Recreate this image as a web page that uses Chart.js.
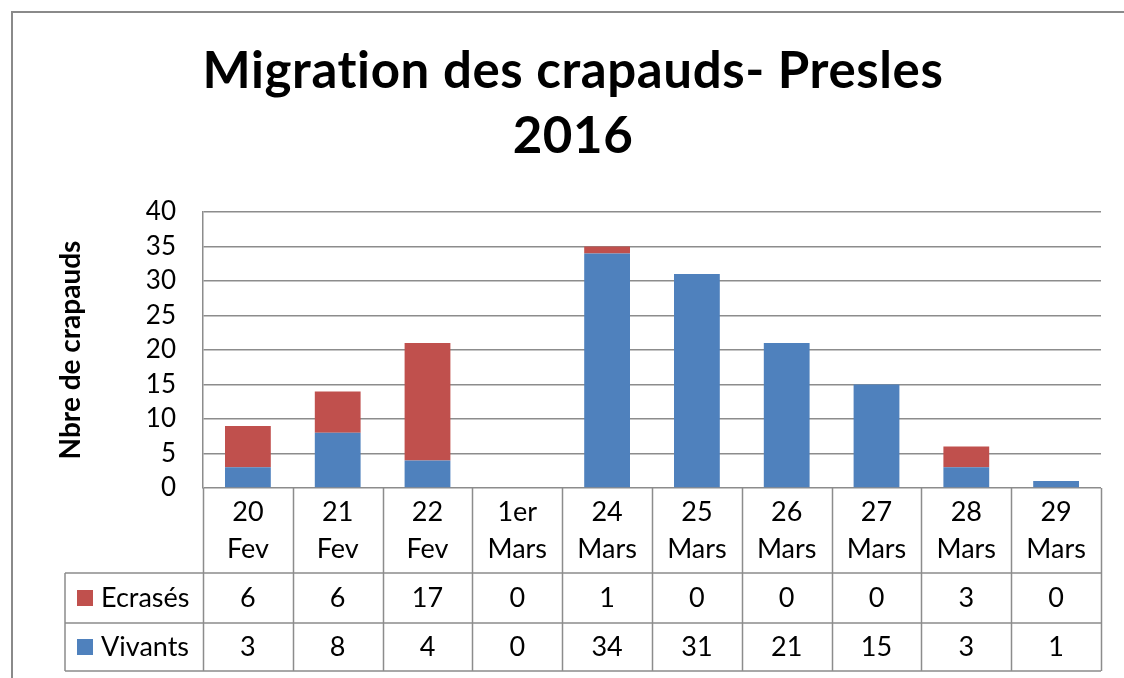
<!DOCTYPE html>
<html>
<head>
<meta charset="utf-8">
<script src="https://cdn.jsdelivr.net/npm/chart.js@4"></script>
<style>
  body { margin: 0; background: #fff; overflow: hidden; }
  #wrap { position: relative; width: 1124px; height: 678px; }
  #frame { position: absolute; left: 11px; top: 11px; width: 1200px; height: 700px; border: 2px solid #8a8a8a; box-sizing: border-box; }
  canvas { position: absolute; left: 0; top: 0; }
</style>
</head>
<body>
<div id="wrap">
  <div id="frame"></div>
  <canvas id="chart" width="1124" height="678"></canvas>
</div>
<script>
const titleLines = ["Migration des crapauds- Presles", "2016"];
const yTitle = "Nbre de crapauds";
const categories = [
  ["20", "Fev"], ["21", "Fev"], ["22", "Fev"], ["1er", "Mars"], ["24", "Mars"],
  ["25", "Mars"], ["26", "Mars"], ["27", "Mars"], ["28", "Mars"], ["29", "Mars"],
];
const vivants = [3, 8, 4, 0, 34, 31, 21, 15, 3, 1];
const ecrases = [6, 6, 17, 0, 1, 0, 0, 0, 3, 0];
const yMax = 40;
const yStep = 5;

const BLUE = "#4F81BD";
const RED = "#C0504D";
const LINE = "#8c8c8c";
const FONT = "Lato";

// title drawn by hand so it can sit off-centre like the original
const titlePlugin = {
  id: "bigTitle",
  afterDraw(chart) {
    const ctx = chart.ctx;
    ctx.save();
    ctx.fillStyle = "#000";
    ctx.font = `bold 51px ${FONT}`;
    ctx.letterSpacing = "0.6px"; // also stops the "ti" ligature
    ctx.textAlign = "center";
    ctx.textBaseline = "middle";
    ctx.fillText(titleLines[0], 573, 72);
    ctx.fillText(titleLines[1], 573, 137);
    ctx.restore();
  },
};

// data table under the plot, with legend keys in the first column
const tablePlugin = {
  id: "dataTable",
  afterDraw(chart) {
    const { ctx, chartArea: a, scales: { x } } = chart;
    const colW = x.width / categories.length;
    const rowLab = a.bottom + 85;
    const rowE = rowLab + 50;
    const rowV = rowE + 48;
    const keyLeft = 65;

    ctx.save();
    ctx.strokeStyle = LINE;
    ctx.lineWidth = 1.5;
    ctx.beginPath();
    for (let i = 0; i <= categories.length; i++) {
      const px = Math.round(a.left + i * colW) + 0.5;
      ctx.moveTo(px, a.bottom);
      ctx.lineTo(px, rowV);
    }
    ctx.moveTo(keyLeft, rowLab); ctx.lineTo(a.right, rowLab);
    ctx.moveTo(keyLeft, rowE); ctx.lineTo(a.right, rowE);
    ctx.moveTo(keyLeft, rowV); ctx.lineTo(a.right, rowV);
    ctx.moveTo(keyLeft, rowLab); ctx.lineTo(keyLeft, rowV);
    ctx.stroke();

    ctx.fillStyle = "#000";
    ctx.font = `27px ${FONT}`;
    ctx.textAlign = "center";
    ctx.textBaseline = "middle";
    categories.forEach((lab, i) => {
      const cx = x.getPixelForValue(i);
      ctx.fillText(lab[0], cx, a.bottom + 24);
      ctx.fillText(lab[1], cx, a.bottom + 61);
      ctx.fillText(String(ecrases[i]), cx, (rowLab + rowE) / 2);
      ctx.fillText(String(vivants[i]), cx, (rowE + rowV) / 2);
    });

    const rows = [
      { name: "Ecrasés", color: RED, y: (rowLab + rowE) / 2 },
      { name: "Vivants", color: BLUE, y: (rowE + rowV) / 2 },
    ];
    ctx.textAlign = "left";
    rows.forEach((r) => {
      ctx.fillStyle = r.color;
      ctx.fillRect(77, r.y - 8, 16, 16);
      ctx.fillStyle = "#000";
      ctx.fillText(r.name, 101, r.y);
    });
    ctx.restore();
  },
};

new Chart(document.getElementById("chart"), {
  type: "bar",
  data: {
    labels: categories,
    datasets: [
      { label: "Vivants", data: vivants, backgroundColor: BLUE },
      { label: "Ecrasés", data: ecrases, backgroundColor: RED },
    ],
  },
  options: {
    responsive: false,
    animation: false,
    layout: { padding: { top: 212, right: 23, bottom: 190, left: 0 } },
    datasets: { bar: { categoryPercentage: 1, barPercentage: 0.51 } },
    plugins: {
      legend: { display: false },
      title: { display: false },
      tooltip: { enabled: false },
    },
    scales: {
      x: { stacked: true, display: false, offset: true },
      y: {
        stacked: true,
        min: 0,
        max: yMax,
        afterFit: (scale) => { scale.width = 203; },
        ticks: {
          stepSize: yStep,
          padding: 27,
          color: "#000",
          font: { family: FONT, size: 26 },
        },
        grid: { color: LINE, lineWidth: 1.5, drawTicks: false },
        border: { color: LINE, width: 1.5 },
        title: {
          display: true,
          text: yTitle,
          color: "#000",
          font: { family: FONT, size: 28, weight: "bold" },
          padding: { top: 54 },
        },
      },
    },
  },
  plugins: [titlePlugin, tablePlugin],
});
</script>
</body>
</html>
